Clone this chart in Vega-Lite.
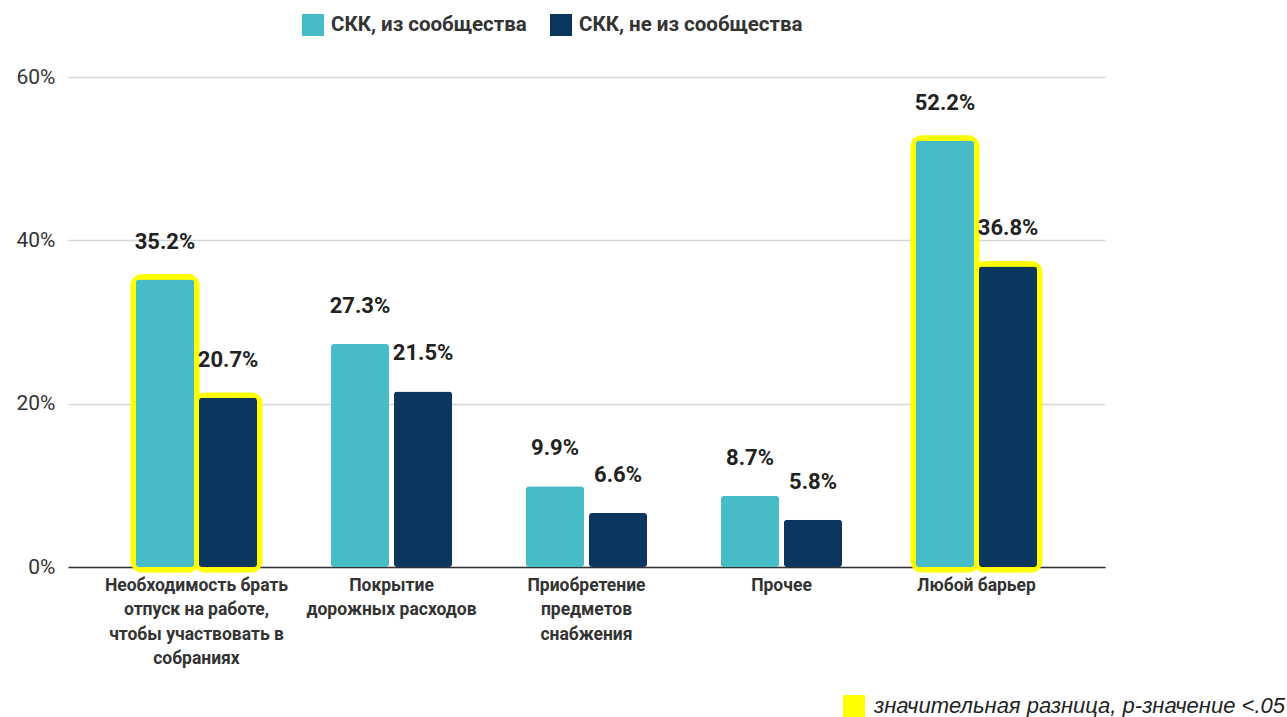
{
  "$schema": "https://vega.github.io/schema/vega-lite/v6.json",
  "width": 1037,
  "height": 490,
  "autosize": "none",
  "padding": {"left": 68, "top": 77, "right": 182, "bottom": 150},
  "background": "white",
  "config": {
    "view": {"stroke": null},
    "font": "Roboto"
  },
  "data": {
    "values": [
      {"category": "Необходимость брать|отпуск на работе,|чтобы участвовать в|собраниях", "group": "СКК, из сообщества", "value": 0.352, "significant": true, "note": "значительная разница, p-значение <.05"},
      {"category": "Необходимость брать|отпуск на работе,|чтобы участвовать в|собраниях", "group": "СКК, не из сообщества", "value": 0.207, "significant": true, "note": "значительная разница, p-значение <.05"},
      {"category": "Покрытие|дорожных расходов", "group": "СКК, из сообщества", "value": 0.273, "significant": false, "note": ""},
      {"category": "Покрытие|дорожных расходов", "group": "СКК, не из сообщества", "value": 0.215, "significant": false, "note": ""},
      {"category": "Приобретение|предметов|снабжения", "group": "СКК, из сообщества", "value": 0.099, "significant": false, "note": ""},
      {"category": "Приобретение|предметов|снабжения", "group": "СКК, не из сообщества", "value": 0.066, "significant": false, "note": ""},
      {"category": "Прочее", "group": "СКК, из сообщества", "value": 0.087, "significant": false, "note": ""},
      {"category": "Прочее", "group": "СКК, не из сообщества", "value": 0.058, "significant": false, "note": ""},
      {"category": "Любой барьер", "group": "СКК, из сообщества", "value": 0.522, "significant": true, "note": "значительная разница, p-значение <.05"},
      {"category": "Любой барьер", "group": "СКК, не из сообщества", "value": 0.368, "significant": true, "note": "значительная разница, p-значение <.05"}
    ]
  },
  "encoding": {
    "x": {
      "field": "category",
      "type": "nominal",
      "sort": [
        "Необходимость брать|отпуск на работе,|чтобы участвовать в|собраниях",
        "Покрытие|дорожных расходов",
        "Приобретение|предметов|снабжения",
        "Прочее",
        "Любой барьер"
      ],
      "scale": {"paddingInner": 0.379, "paddingOuter": 0.3485},
      "axis": {
        "title": null,
        "labelExpr": "split(datum.label, '|')",
        "labelAngle": 0,
        "labelFont": "Roboto",
        "labelFontSize": 17.5,
        "labelFontWeight": "bold",
        "labelColor": "#333333",
        "labelLineHeight": 24.5,
        "labelPadding": 9,
        "labelBaseline": "top",
        "labelLimit": 300,
        "ticks": false,
        "domainColor": "#333333",
        "domainWidth": 1.5
      }
    },
    "xOffset": {
      "field": "group",
      "type": "nominal",
      "sort": ["СКК, из сообщества", "СКК, не из сообщества"],
      "scale": {"paddingInner": 0.079, "paddingOuter": 0}
    },
    "y": {
      "field": "value",
      "type": "quantitative",
      "scale": {"domain": [0, 0.6], "nice": false},
      "axis": {
        "title": null,
        "values": [0, 0.2, 0.4, 0.6],
        "format": ".0%",
        "domain": false,
        "ticks": false,
        "labelFont": "Roboto",
        "labelFontSize": 21,
        "labelColor": "#333333",
        "labelPadding": 13,
        "gridColor": "#d6d6d6",
        "gridWidth": 1.5
      }
    }
  },
  "layer": [
    {
      "transform": [{"filter": "datum.significant"}],
      "mark": {"type": "bar", "cornerRadius": 6, "stroke": "#ffff00", "strokeWidth": 11, "strokeJoin": "round"},
      "encoding": {
        "fill": {
          "field": "note",
          "type": "nominal",
          "scale": {"domain": ["значительная разница, p-значение <.05"], "range": ["#ffff00"]},
          "legend": {
            "title": null,
            "orient": "none",
            "legendX": 775,
            "legendY": 618,
            "symbolType": "square",
            "symbolSize": 484,
            "symbolStrokeWidth": 0,
            "labelFont": "Liberation Sans",
            "labelFontSize": 22,
            "labelFontStyle": "italic",
            "labelColor": "#222222",
            "labelOffset": 9,
            "labelLimit": 600
          }
        }
      }
    },
    {
      "mark": {"type": "bar", "cornerRadius": 3},
      "encoding": {
        "color": {
          "field": "group",
          "type": "nominal",
          "sort": ["СКК, из сообщества", "СКК, не из сообщества"],
          "scale": {"domain": ["СКК, из сообщества", "СКК, не из сообщества"], "range": ["#45BCC6", "#0B375F"]},
          "legend": {
            "title": null,
            "orient": "none",
            "direction": "horizontal",
            "legendX": 234,
            "legendY": -63,
            "symbolType": "square",
            "symbolSize": 484,
            "symbolStrokeWidth": 0,
            "labelFont": "Roboto",
            "labelFontSize": 20.5,
            "labelFontWeight": "bold",
            "labelColor": "#333333",
            "labelOffset": 7,
            "labelLimit": 500,
            "columnPadding": 23
          }
        }
      }
    },
    {
      "mark": {
        "type": "text",
        "baseline": "middle",
        "dy": -38,
        "font": "Roboto",
        "fontSize": 22,
        "fontWeight": "bold",
        "color": "#222222"
      },
      "encoding": {
        "text": {"field": "value", "type": "quantitative", "format": ".1%"}
      }
    }
  ]
}
